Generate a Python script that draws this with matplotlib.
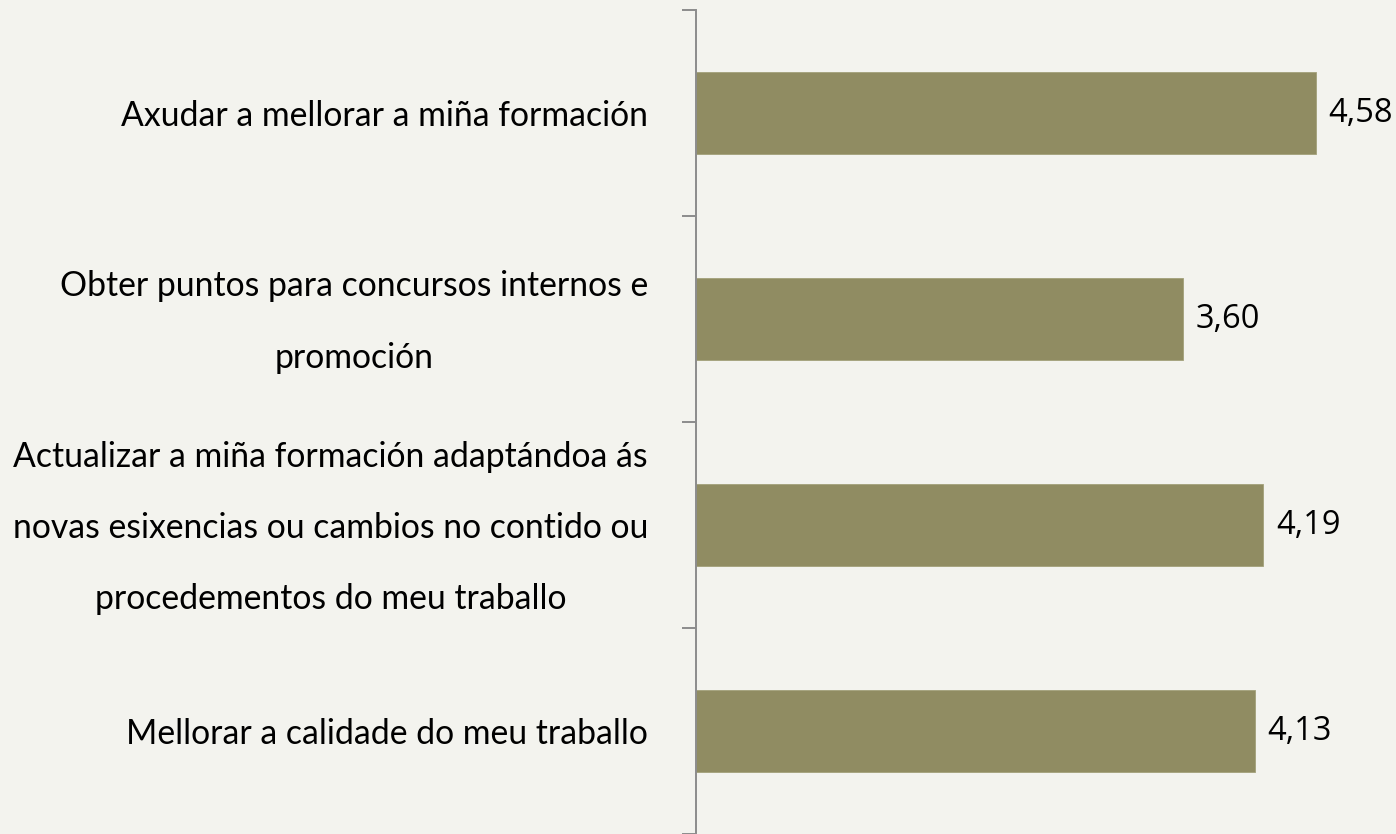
import matplotlib.pyplot as plt
import matplotlib.transforms as mtransforms

# -----------------------------
# Data
# -----------------------------
labels = [
    "Axudar a mellorar a miña formación",
    "Obter puntos para concursos internos e\npromoción",
    "Actualizar a miña formación adaptándoa ás\nnovas esixencias ou cambios no contido ou\nprocedementos do meu traballo",
    "Mellorar a calidade do meu traballo",
]
values = [4.58, 3.60, 4.19, 4.13]
value_text = ["4,58", "3,60", "4,19", "4,13"]

bg = "#f3f3ee"
bar_color = "#908c62"
axis_color = "#8c8c8c"

fig = plt.figure(figsize=(13.96, 8.34), dpi=100, facecolor=bg)
ax = fig.add_axes([696 / 1396, 0.0, (1373 - 696) / 1396, 1 - 10 / 834])
ax.set_facecolor(bg)

pos = list(range(len(labels)))
ax.barh(pos, values, height=0.4, color=bar_color, edgecolor="#a3a07a", linewidth=0.6)

ax.set_xlim(0, 5)
ax.set_ylim(len(labels) - 0.5, -0.5)

# category labels (drawn as text so multi-line ones are centred on the bar)
ax.set_yticks([])
base = mtransforms.blended_transform_factory(ax.transAxes, ax.transData)
tr = mtransforms.offset_copy(base, fig=fig, x=-48, y=-3, units="dots")
for p, lab in zip(pos, labels):
    ax.text(0, p, lab, transform=tr, ha="right", va="center",
            multialignment="center", linespacing=2.5,
            fontsize=24.3, family="Lato", color="black")

# boundary tick marks
ax.set_yticks([p - 0.5 for p in pos] + [len(labels) - 0.5], minor=True)
ax.tick_params(axis="y", which="minor", length=10, width=1.4, color=axis_color,
               direction="out")
ax.set_xticks([])

for s in ["top", "right", "bottom"]:
    ax.spines[s].set_visible(False)
ax.spines["left"].set_color(axis_color)
ax.spines["left"].set_linewidth(1.4)

# value labels
for p, v, t in zip(pos, values, value_text):
    ax.annotate(t, (v, p), xytext=(9, 0), textcoords="offset points",
                va="center", ha="left", fontsize=23.5, family="Open Sans",
                color="black")

fig.savefig("out.png", dpi=100, facecolor=bg)
